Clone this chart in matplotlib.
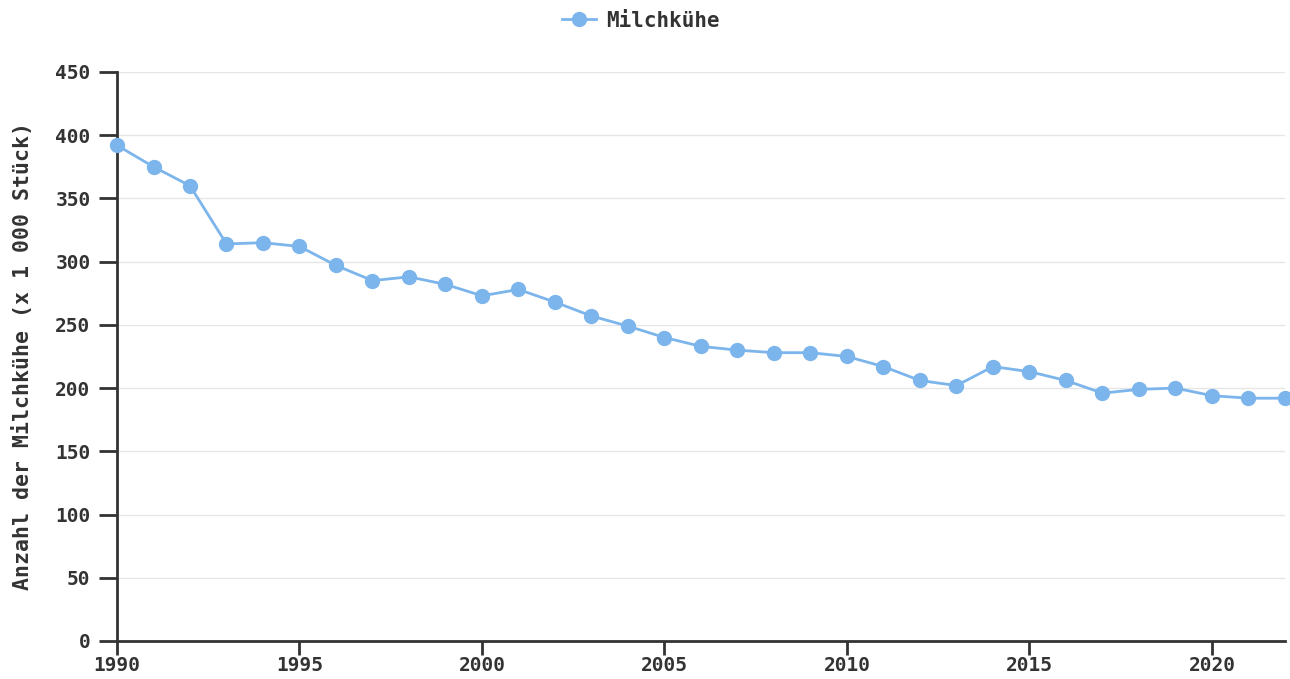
import matplotlib
matplotlib.use("Agg")
from matplotlib import pyplot as plt

# Milchkühe, Anzahl in 1 000 Stück
years = list(range(1990, 2023))
cows = [392, 375, 360, 314, 315, 312, 297, 285, 288, 282,
        273, 278, 268, 257, 249, 240, 233, 230, 228, 228,
        225, 217, 206, 202, 217, 213, 206, 196, 199, 200,
        194, 192, 192]

x_ticks = list(range(1990, 2021, 5))
y_ticks = list(range(0, 451, 50))

plt.rcParams['font.family'] = ['DejaVu Sans Mono']
plt.rcParams['font.weight'] = 'bold'

fig = plt.figure(figsize=(12.9, 6.79), dpi=100)
ax = fig.add_axes([0.0907, 0.056, 0.9054, 0.838])

ax.plot(years, cows, color='#7cb5ec', linewidth=2, marker='o',
        markersize=10, label='Milchkühe', clip_on=False, zorder=3)

ax.set_xlim(1990, 2022)
ax.set_ylim(0, 450)
ax.set_xticks(x_ticks)
ax.set_yticks(y_ticks)

ax.grid(axis='y', color='#e6e6e6', linewidth=1)
ax.set_axisbelow(True)

for side in ['top', 'right']:
    ax.spines[side].set_visible(False)
for side in ['left', 'bottom']:
    ax.spines[side].set_color('#333333')
    ax.spines[side].set_linewidth(2)

ax.tick_params(axis='y', length=13, width=2, color='#333333',
               labelsize=14, labelcolor='#333333', pad=6)
ax.tick_params(axis='x', length=10, width=2, color='#333333',
               labelsize=14, labelcolor='#333333', pad=1)

ax.set_ylabel('Anzahl der Milchkühe (x 1 000 Stück)', fontsize=15.5,
              color='#333333', fontweight='bold', labelpad=16)

fig.legend(loc='upper center', bbox_to_anchor=(0.497, 1.012), frameon=False,
           prop={'size': 15, 'weight': 'bold'}, labelcolor='#333333',
           handlelength=1.6, handletextpad=0.5, markerscale=1.0)

fig.savefig('out.png', dpi=100)
